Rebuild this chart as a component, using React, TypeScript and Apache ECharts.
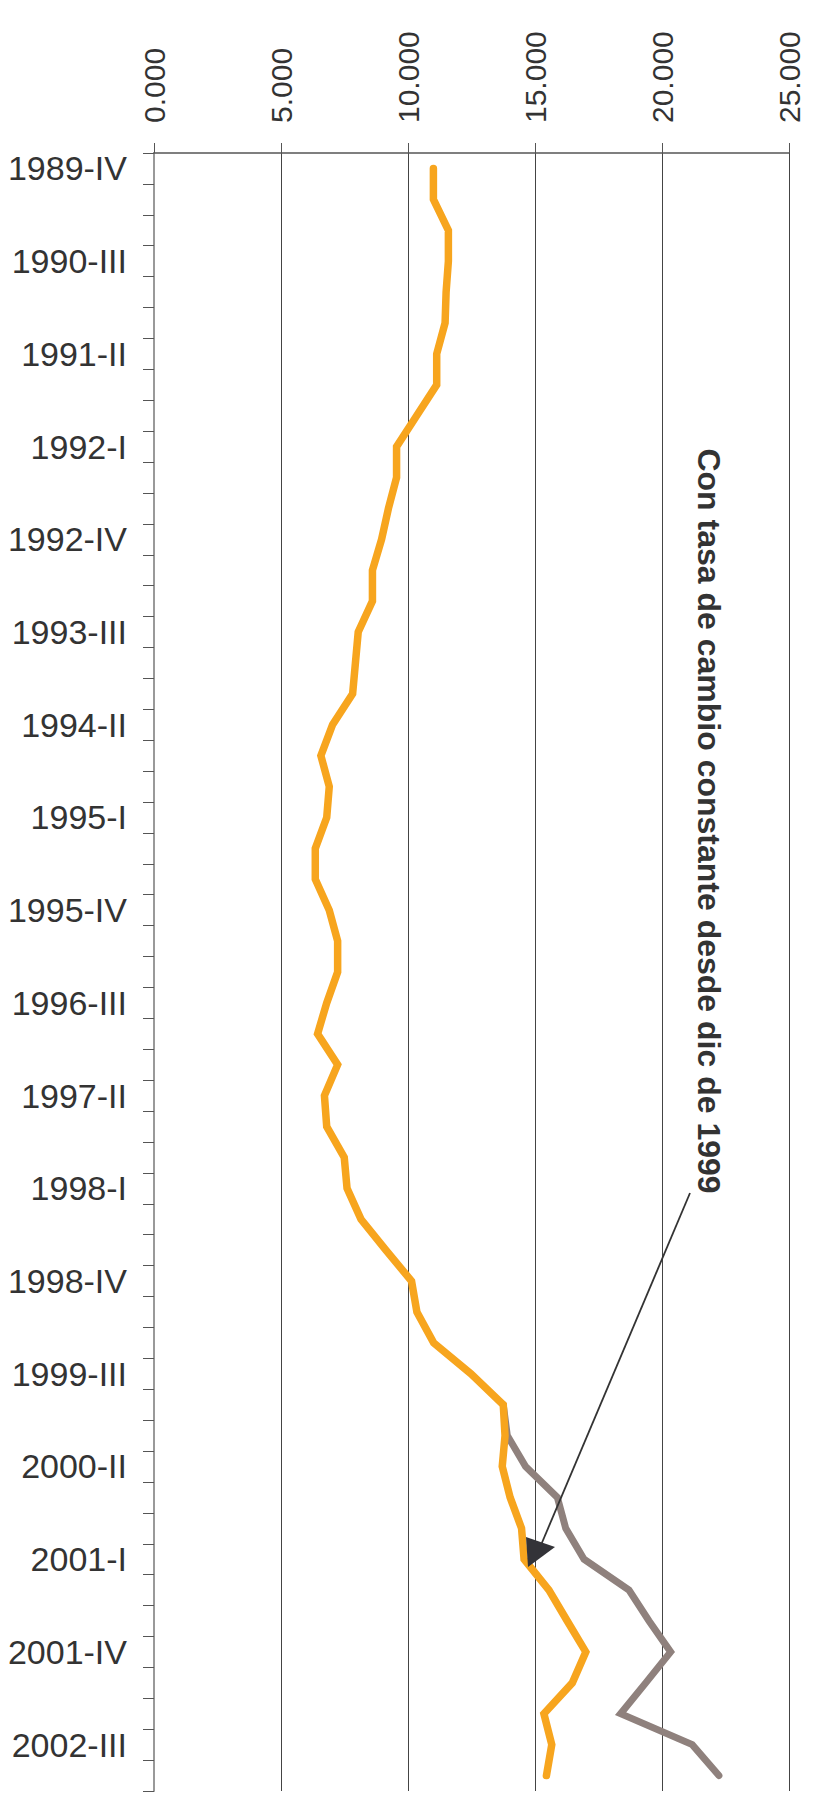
import React, { useEffect, useRef } from "react";
import * as echarts from "echarts";

const categories = [
  "1989-IV",
  "1990-I", "1990-II", "1990-III", "1990-IV",
  "1991-I", "1991-II", "1991-III", "1991-IV",
  "1992-I", "1992-II", "1992-III", "1992-IV",
  "1993-I", "1993-II", "1993-III", "1993-IV",
  "1994-I", "1994-II", "1994-III", "1994-IV",
  "1995-I", "1995-II", "1995-III", "1995-IV",
  "1996-I", "1996-II", "1996-III", "1996-IV",
  "1997-I", "1997-II", "1997-III", "1997-IV",
  "1998-I", "1998-II", "1998-III", "1998-IV",
  "1999-I", "1999-II", "1999-III", "1999-IV",
  "2000-I", "2000-II", "2000-III", "2000-IV",
  "2001-I", "2001-II", "2001-III", "2001-IV",
  "2002-I", "2002-II", "2002-III", "2002-IV",
];

const seriesMain = [
  11.0, 11.0, 11.59, 11.59, 11.5, 11.46, 11.13, 11.13, 10.34, 9.55,
  9.55, 9.23, 8.96, 8.6, 8.6, 8.04, 7.93, 7.82, 7.03, 6.57,
  6.9, 6.8, 6.35, 6.35, 6.9, 7.23, 7.23, 6.8, 6.44, 7.23,
  6.71, 6.8, 7.49, 7.6, 8.15, 9.13, 10.14, 10.35, 11.01, 12.48,
  13.75, 13.82, 13.71, 14.02, 14.47, 14.57, 15.55, 16.27, 17.0, 16.47,
  15.35, 15.66, 15.45,
];

const seriesConstantRate = [
  null, null, null, null, null, null, null, null, null, null,
  null, null, null, null, null, null, null, null, null, null,
  null, null, null, null, null, null, null, null, null, null,
  null, null, null, null, null, null, null, null, null, null,
  13.75, 13.91, 14.63, 15.88, 16.21, 16.93, 18.7, 19.49, 20.34, 19.36,
  18.37, 21.19, 22.24,
];

const valueTickLabels = ["0.000", "5.000", "10.000", "15.000", "20.000", "25.000"];

const annotationText = "Con tasa de cambio constante desde dic de 1999";

const FONT = "'Liberation Sans', Arial, Helvetica, sans-serif";

export default function App() {
  const ref = useRef<HTMLDivElement>(null);

  useEffect(() => {
    if (!ref.current) return;
    const chart = echarts.init(ref.current, null, { renderer: "svg" });
    chart.setOption({
      animation: false,
      backgroundColor: "#ffffff",
      grid: { left: 154, right: 28, top: 153, bottom: 3, containLabel: false },
      xAxis: {
        type: "value",
        position: "top",
        min: 0,
        max: 25,
        interval: 5,
        axisLine: { show: true, lineStyle: { color: "#555", width: 1.5 } },
        axisTick: { show: true, length: 10, lineStyle: { color: "#555", width: 1 } },
        splitLine: { show: true, lineStyle: { color: "#444", width: 1 } },
        axisLabel: {
          rotate: -90,
          margin: 30,
          fontSize: 30,
          color: "#333",
          fontFamily: FONT,
          formatter: (v: number) => valueTickLabels[Math.round(v / 5)] ?? "",
        },
      },
      yAxis: {
        type: "category",
        inverse: true,
        data: categories,
        boundaryGap: true,
        axisLine: { show: true, lineStyle: { color: "#999", width: 2 } },
        axisTick: { show: true, interval: 0, length: 11, lineStyle: { color: "#555", width: 1 } },
        splitLine: { show: false },
        axisLabel: {
          interval: 2,
          margin: 27,
          fontSize: 34,
          color: "#333",
          fontFamily: FONT,
        },
      },
      series: [
        {
          name: "Con tasa de cambio constante",
          type: "line",
          data: seriesConstantRate,
          showSymbol: false,
          symbol: "none",
          connectNulls: false,
          z: 2,
          lineStyle: { color: "#8f817d", width: 7, cap: "round", join: "miter" },
        },
        {
          name: "Observado",
          type: "line",
          data: seriesMain,
          showSymbol: false,
          symbol: "none",
          z: 3,
          lineStyle: { color: "#f7a51e", width: 7.5, cap: "round", join: "miter" },
        },
      ],
      graphic: [
        {
          type: "text",
          x: 709,
          y: 821,
          rotation: -Math.PI / 2,
          z: 10,
          style: {
            text: annotationText,
            fontSize: 32,
            fontWeight: "bold",
            fontFamily: FONT,
            fill: "#333",
            textAlign: "center",
            textVerticalAlign: "middle",
          },
        },
        {
          type: "line",
          z: 10,
          shape: { x1: 690, y1: 1193, x2: 541, y2: 1545 },
          style: { stroke: "#333", lineWidth: 1.8 },
        },
        {
          type: "polygon",
          z: 10,
          shape: { points: [[528, 1567], [526, 1537], [555, 1547]] },
          style: { fill: "#333338", stroke: "none" },
        },
      ],
    });
    return () => chart.dispose();
  }, []);

  return (
    <div
      ref={ref}
      style={{ position: "absolute", left: 0, top: 0, width: 817, height: 1794 }}
    />
  );
}
